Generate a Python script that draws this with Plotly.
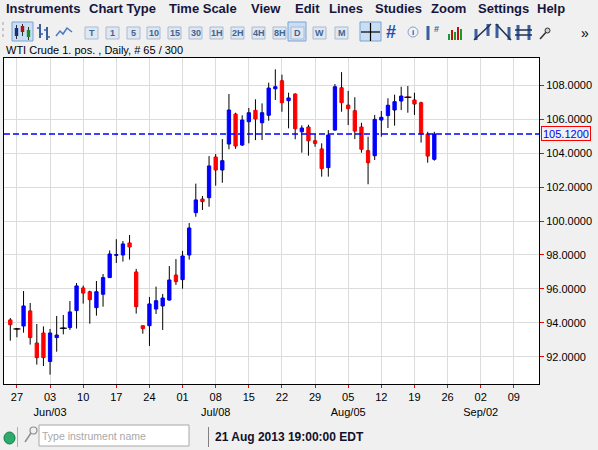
import pandas as pd
import plotly.graph_objects as go

FONT = "Liberation Sans, Arial, sans-serif"

# daily WTI candles, 24 May 2013 .. 22 Aug 2013 (65 bars, weekdays only)
first_day = "2013-05-24"
last_day = "2013-08-22"

opens = [94.18, 93.65, 93.82, 94.71, 92.82, 93.41,
         91.73, 93.14, 93.69, 93.73, 94.73,
         96.06, 95.84, 94.90, 95.69, 96.67,
         97.98, 98.00, 98.71, 97.00, 93.84,
         93.84, 94.82, 95.00, 95.35, 96.82,
         96.55, 98.00, 100.49, 101.29, 101.37,
         103.76, 103.00, 104.53, 106.29, 104.47,
         105.84, 106.51, 105.78, 106.22, 107.78,
         108.25, 107.08, 107.47, 105.25, 105.53,
         104.72, 104.24, 103.14, 105.35, 107.84,
         106.82, 106.49, 105.53, 104.14, 103.84,
         105.94, 106.20, 106.53, 107.06, 107.28,
         107.12, 106.96, 105.12, 103.63]
highs = [94.29, 93.71, 95.88, 95.18, 93.94, 93.80,
         93.65, 94.41, 94.47, 95.29, 96.35,
         96.20, 95.90, 96.47, 96.88, 98.27,
         98.93, 98.82, 99.18, 97.18, 93.86,
         95.53, 96.14, 95.71, 97.35, 97.76,
         98.24, 99.88, 102.20, 101.47, 103.82,
         103.94, 104.82, 107.47, 106.37, 106.22,
         106.65, 107.16, 106.92, 108.14, 108.92,
         108.61, 107.55, 107.51, 105.63, 105.66,
         105.12, 104.57, 105.35, 108.06, 108.76,
         107.65, 107.28, 105.78, 104.96, 106.24,
         106.47, 107.22, 107.43, 107.90, 107.94,
         107.55, 107.02, 105.25, 105.25]
lows = [92.96, 93.16, 93.43, 92.73, 91.55, 91.47,
        90.96, 92.31, 93.33, 93.59, 93.67,
        95.14, 93.96, 94.43, 94.96, 96.65,
        97.53, 97.61, 97.73, 94.55, 93.37,
        92.65, 94.53, 93.59, 95.31, 96.24,
        96.02, 97.73, 100.25, 100.65, 100.84,
        102.08, 102.25, 104.22, 104.25, 104.41,
        104.57, 104.76, 104.76, 105.90, 107.12,
        106.43, 105.45, 104.81, 104.02, 103.84,
        104.37, 102.61, 102.61, 105.31, 106.43,
        105.65, 104.82, 104.02, 102.16, 103.59,
        104.96, 105.47, 105.61, 106.53, 106.37,
        106.24, 104.61, 103.43, 103.55]
closes = [93.90, 93.65, 95.00, 93.14, 91.96, 91.96,
          93.41, 93.29, 93.69, 94.65, 96.18,
          95.76, 95.37, 95.84, 96.67, 98.06,
          98.02, 98.65, 98.47, 94.96, 93.67,
          95.12, 95.31, 95.47, 96.53, 96.43,
          97.94, 99.59, 101.24, 101.14, 103.24,
          103.00, 103.55, 106.53, 104.41, 105.94,
          106.37, 106.00, 106.37, 107.82, 107.90,
          106.96, 107.24, 105.43, 105.47, 104.72,
          104.57, 103.08, 105.06, 107.90, 106.96,
          106.61, 105.29, 104.22, 103.43, 105.98,
          106.10, 106.81, 107.02, 107.35, 107.28,
          106.88, 105.12, 103.82, 105.12]

tick_dates = ["2013-05-27", "2013-06-03", "2013-06-10", "2013-06-17", "2013-06-24",
              "2013-07-01", "2013-07-08", "2013-07-15", "2013-07-22", "2013-07-29",
              "2013-08-05", "2013-08-12", "2013-08-19", "2013-08-26", "2013-09-02",
              "2013-09-09"]
tick_text = ["27", "03<br>Jun/03", "10", "17", "24", "01", "08<br>Jul/08", "15", "22",
             "29", "05<br>Aug/05", "12", "19", "26", "02<br>Sep/02", "09"]

menu_items = ["Instruments", "Chart Type", "Time Scale", "View", "Edit", "Lines",
              "Studies", "Zoom", "Settings", "Help"]
menu_x = [4, 87, 167, 249, 293, 327, 373, 429, 476, 535]
tf_buttons = ["T", "1", "5", "10", "15", "30", "1H", "2H", "4H", "8H", "D", "W", "M"]
tf_x = [85, 106, 127, 147, 168, 189, 210, 231, 252, 273, 291, 313, 335]

# bars sit at noon so the bodies never touch the weekend breaks
half_day = pd.Timedelta(hours=12)
dates = pd.bdate_range(first_day, last_day) + half_day
ticks = pd.to_datetime(tick_dates) + half_day

# pixel geometry of the plot box
L, R, T, B = 4, 539, 58, 384


def fx(x):
    return (x - L) / (R - L)


def fy(y):
    return (B - y) / (B - T)


shapes = []
annotations = []


def rect(x0, y0, x1, y1, fill, line="rgba(0,0,0,0)", lw=1):
    shapes.append(dict(type="rect", xref="paper", yref="paper",
                       x0=fx(x0), x1=fx(x1), y0=fy(y1), y1=fy(y0),
                       fillcolor=fill, line=dict(color=line, width=lw), layer="above"))


def seg(x0, y0, x1, y1, color, lw=1, dash=None):
    shapes.append(dict(type="line", xref="paper", yref="paper",
                       x0=fx(x0), x1=fx(x1), y0=fy(y0), y1=fy(y1),
                       line=dict(color=color, width=lw, dash=dash), layer="above"))


def circle(x0, y0, x1, y1, fill, line, lw=1):
    shapes.append(dict(type="circle", xref="paper", yref="paper",
                       x0=fx(x0), x1=fx(x1), y0=fy(y1), y1=fy(y0),
                       fillcolor=fill, line=dict(color=line, width=lw), layer="above"))


def text(x, y, s, size, color="black", anchor="left"):
    annotations.append(dict(xref="paper", yref="paper", x=fx(x), y=fy(y), text=s,
                            showarrow=False, xanchor=anchor, yanchor="middle",
                            font=dict(family=FONT, size=size, color=color)))


fig = go.Figure()

body_hi = [max(o, c) for o, c in zip(opens, closes)]
body_lo = [min(o, c) for o, c in zip(opens, closes)]

# wicks: scatter sits above the boxes, so draw only the parts outside the body
wick_x, wick_y = [], []
for d, h, l, bh, bl in zip(dates, highs, lows, body_hi, body_lo):
    wick_x += [d, d, None, d, d, None]
    wick_y += [bh, h, None, l, bl, None]
fig.add_trace(go.Scatter(x=wick_x, y=wick_y, mode="lines",
                         line=dict(color="black", width=1), hoverinfo="skip"))

# bodies
fig.add_trace(go.Candlestick(
    x=dates, open=opens, high=body_hi, low=body_lo, close=closes, whiskerwidth=0,
    increasing=dict(line=dict(color="#0000ff", width=1), fillcolor="#0000ff"),
    decreasing=dict(line=dict(color="#ff0000", width=1), fillcolor="#ff0000"),
))

# dojis drawn as black dashes
doji = [i for i, (o, c) in enumerate(zip(opens, closes)) if o == c]
fig.add_trace(go.Scatter(x=[dates[i] for i in doji], y=[closes[i] for i in doji],
                         mode="markers",
                         marker=dict(symbol="line-ew", size=5,
                                     line=dict(color="black", width=1.2))))

# current price line and box
last = closes[-1]
shapes.append(dict(type="line", xref="paper", yref="y", x0=0, x1=1, y0=last, y1=last,
                   line=dict(color="#0000ff", width=1.5, dash="6px,3px")))
annotations.append(dict(xref="paper", yref="y", x=1, y=last, xanchor="left", xshift=2,
                        yanchor="middle", text=f"{last:.4f}", showarrow=False,
                        font=dict(family=FONT, size=11, color="#0000ff"),
                        bordercolor="#ff0000", borderwidth=1, borderpad=1,
                        height=11))

# menu bar
for name, x in zip(menu_items, menu_x):
    text(x, 9, f"<b>{name}</b>", 13, "#16163c")

# toolbar
seg(3, 22, 3, 40, "#a0a0a0", 1, "dot")
rect(12, 22, 33, 41, "#c9def5", "#7da2ce")
for wx, wt, wb, bt, bb, col in [(16.5, 25, 39, 28, 36, "#1c2f7a"),
                                 (22.5, 24, 36, 26, 32, "#b01010"),
                                 (28.5, 27, 40, 30, 37, "#1c8a2a")]:
    seg(wx, wt, wx, wb, "#303030", 1)
    rect(wx - 1.7, bt, wx + 1.7, bb, col)
seg(40, 24, 40, 38, "#3a5ea0", 2)
seg(37, 28, 40, 28, "#3a5ea0", 1.5)
seg(40, 34, 43, 34, "#3a5ea0", 1.5)
seg(47, 27, 47, 40, "#3a5ea0", 2)
seg(44, 30, 47, 30, "#3a5ea0", 1.5)
seg(47, 37, 50, 37, "#3a5ea0", 1.5)
shapes.append(dict(type="path", xref="paper", yref="paper", layer="above",
                   path=f"M{fx(56)},{fy(36)} L{fx(60)},{fy(31)} L{fx(63)},{fy(34)} "
                        f"L{fx(67)},{fy(28)} L{fx(72)},{fy(32)}",
                   line=dict(color="#4a78c0", width=1.5)))
rect(288, 22, 306, 41, "#c9def5", "#7da2ce")
for name, x in zip(tf_buttons, tf_x):
    rect(x, 27, x + 13, 39, "#dfe7f1", "#a9bbd3")
    text(x + 6.5, 33, f"<b>{name}</b>", 9, "#44648f", "center")
rect(360, 22, 381, 41, "#c9def5", "#7da2ce")
seg(361, 32, 380, 32, "black", 1.2)
seg(370.5, 23, 370.5, 41, "black", 1.2)
text(391, 32, "<b>#</b>", 18, "#1f4fb0", "center")
circle(408, 27, 418, 37, "#eef2fa", "#8aa0c8")
text(413, 32, "<b>i</b>", 8, "#1f4fb0", "center")
seg(428, 26, 428, 40, "#3a5ea0", 3)
text(436, 29, "<b>#</b>", 9, "#3a5ea0", "center")
for bx, top, col in [(449, 34, "#1a9a2a"), (452, 30, "#c01010"), (455, 32, "#1a9a2a"),
                     (458, 27, "#c01010"), (461, 29, "#1a9a2a")]:
    seg(bx, top, bx, 40, col, 2)
seg(476, 29, 476, 40, "#3a5ea0", 3)
seg(488, 24, 488, 36, "#3a5ea0", 3)
seg(474, 40, 491, 24, "#203050", 1.5)
seg(497, 24, 497, 38, "#3a5ea0", 3)
seg(509, 27, 509, 40, "#3a5ea0", 3)
seg(496, 24, 511, 40, "#203050", 1.5)
seg(518, 25, 518, 40, "#3a5ea0", 3)
seg(529, 25, 529, 40, "#3a5ea0", 3)
seg(515, 30, 532, 30, "#203050", 1.5)
seg(515, 35, 532, 35, "#203050", 1.5)
seg(540, 39, 548, 30, "#303030", 1.5)
circle(545, 28, 550, 33, "#d0d0d0", "#303030")
text(585, 33, "»", 14, "black", "center")

# chart caption
text(4, 50, "WTI Crude 1. pos. , Daily, # 65 / 300", 11, "black")

# status bar
circle(4, 432, 15, 444, "#2dab6b", "#137a45")
seg(17.5, 427, 17.5, 447, "#b0b0b0", 1)
circle(30, 427, 37, 434, "rgba(0,0,0,0)", "#909090", 1.2)
seg(31, 433, 25, 442, "#909090", 1.5)
rect(39, 425, 189, 446, "white", "#a8a8a8")
text(40, 436, "Type instrument name", 10.5, "#a8a8a8")
seg(208.5, 427, 208.5, 447, "#808080", 1)
text(213, 437, "<b>21 Aug 2013 19:00:00 EDT</b>", 12, "#10102a")

fig.update_layout(
    width=598, height=450,
    margin=dict(l=L, r=598 - R, t=T, b=450 - B, pad=0),
    paper_bgcolor="#f0f0f0", plot_bgcolor="white",
    showlegend=False, boxgap=0.5, boxgroupgap=0, hovermode=False,
    font=dict(family=FONT, size=11, color="black"),
    shapes=shapes, annotations=annotations,
)
fig.update_xaxes(
    type="date", rangeslider_visible=False,
    range=["2013-05-23 13:10", "2013-09-13 07:10"],
    rangebreaks=[dict(bounds=["sat", "mon"])],
    tickmode="array", tickvals=ticks, ticktext=tick_text,
    ticks="outside", ticklen=3, tickcolor="#ff0000",
    tickfont=dict(family=FONT, size=11, color="black"),
    showgrid=True, gridcolor="#dcdcdc", gridwidth=1,
    showline=True, linecolor="black", linewidth=1, mirror=True, zeroline=False,
)
fig.update_yaxes(
    side="right", range=[90.41, 109.59], dtick=2, tick0=0, tickformat=".4f",
    ticks="outside", ticklen=4, tickcolor="#ff0000",
    tickfont=dict(family=FONT, size=11, color="black"),
    showgrid=True, gridcolor="#dcdcdc", gridwidth=1,
    showline=True, linecolor="black", linewidth=1, mirror=True, zeroline=False,
)

# the page body has an 8px default margin; drop it so the figure fills the window
fig.write_html("out.html", config={"displayModeBar": False},
               post_script="document.body.style.margin='0';")
